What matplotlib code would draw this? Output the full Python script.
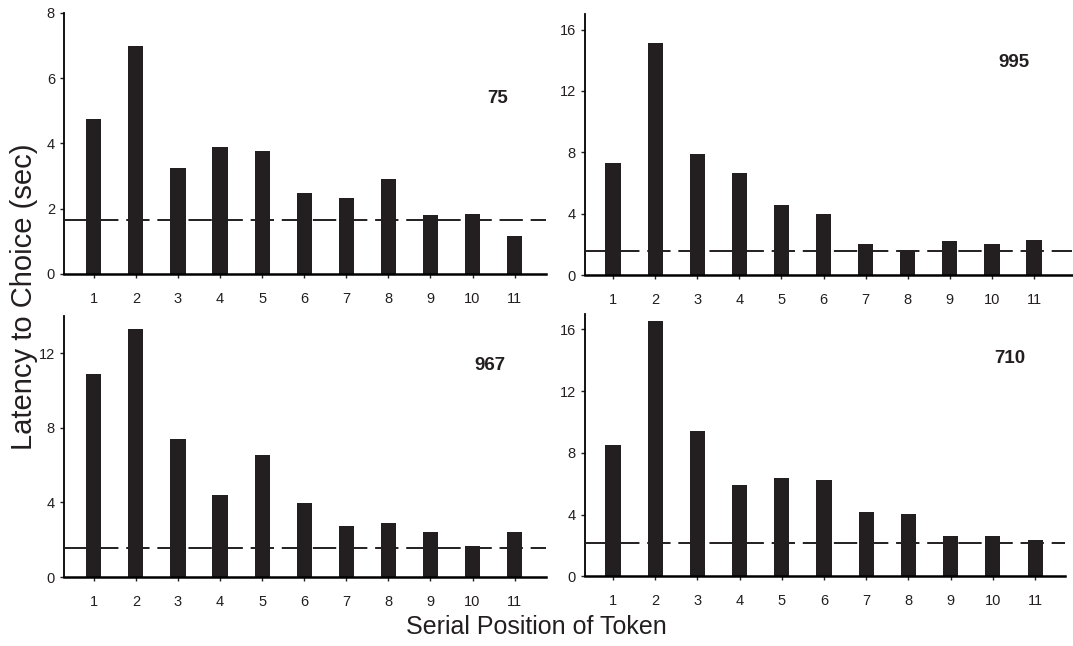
import matplotlib
matplotlib.use("Agg")
import matplotlib.pyplot as plt
import numpy as np

plt.rcParams['font.family'] = ['Liberation Sans', 'DejaVu Sans']

# Latency to choice (sec) at each serial token position, one panel per subject
positions = np.arange(1, 12)
subjects = ['75', '995', '967', '710']
lat_75 = [4.76, 6.98, 3.26, 3.90, 3.78, 2.49, 2.32, 2.90, 1.82, 1.85, 1.17]
lat_995 = [7.30, 15.15, 7.92, 6.64, 4.60, 3.97, 2.02, 1.65, 2.23, 2.02, 2.32]
lat_967 = [10.89, 13.33, 7.38, 4.41, 6.52, 3.98, 2.72, 2.90, 2.40, 1.68, 2.40]
lat_710 = [8.52, 16.54, 9.39, 5.92, 6.39, 6.24, 4.16, 4.01, 2.62, 2.58, 2.34]
baselines = [1.64, 1.60, 1.56, 2.15]
series = [lat_75, lat_995, lat_967, lat_710]
yticks = [[0, 2, 4, 6, 8], [0, 4, 8, 12, 16], [0, 4, 8, 12], [0, 4, 8, 12, 16]]
ylims = [8, 17, 14, 17]

# axes boxes in figure fractions: left, bottom, width, height
boxes = [[0.0596, 0.5759, 0.449, 0.404],
         [0.545, 0.574, 0.454, 0.404],
         [0.0596, 0.1068, 0.449, 0.404],
         [0.545, 0.108, 0.448, 0.406]]
xlims = [(0.29, 11.74), (0.33, 11.9), (0.29, 11.74), (0.33, 11.72)]
label_pos = [(0.90, 0.674), (0.88, 0.816), (0.884, 0.81), (0.885, 0.83)]

fig = plt.figure(figsize=(10.73, 6.46), dpi=100)
bar_color = '#231f20'

for i in range(4):
    ax = fig.add_axes(boxes[i])
    ax.bar(positions, series[i], width=0.36, color=bar_color, zorder=2)
    ax.axhline(baselines[i], color=bar_color, lw=1.4, dashes=(12, 4), zorder=3)
    ax.set_xlim(*xlims[i])
    ax.set_ylim(0, ylims[i])
    ax.set_xticks(positions)
    ax.set_yticks(yticks[i])
    ax.spines['top'].set_visible(False)
    ax.spines['right'].set_visible(False)
    ax.spines['left'].set_linewidth(1.3)
    ax.spines['bottom'].set_linewidth(1.8)
    ax.tick_params(axis='both', length=3, width=1, labelsize=10.5, colors=bar_color)
    ax.tick_params(axis='x', pad=10)
    ax.text(label_pos[i][0], label_pos[i][1], subjects[i], transform=ax.transAxes,
            ha='center', va='center', fontsize=13.5, fontweight='bold', color=bar_color)

fig.text(0.022, 0.54, 'Latency to Choice (sec)', rotation=90, ha='center', va='center',
         fontsize=21, color=bar_color)
fig.text(0.5, 0.029, 'Serial Position of Token', ha='center', va='center',
         fontsize=18, color=bar_color)

fig.savefig('out.png', dpi=100)
